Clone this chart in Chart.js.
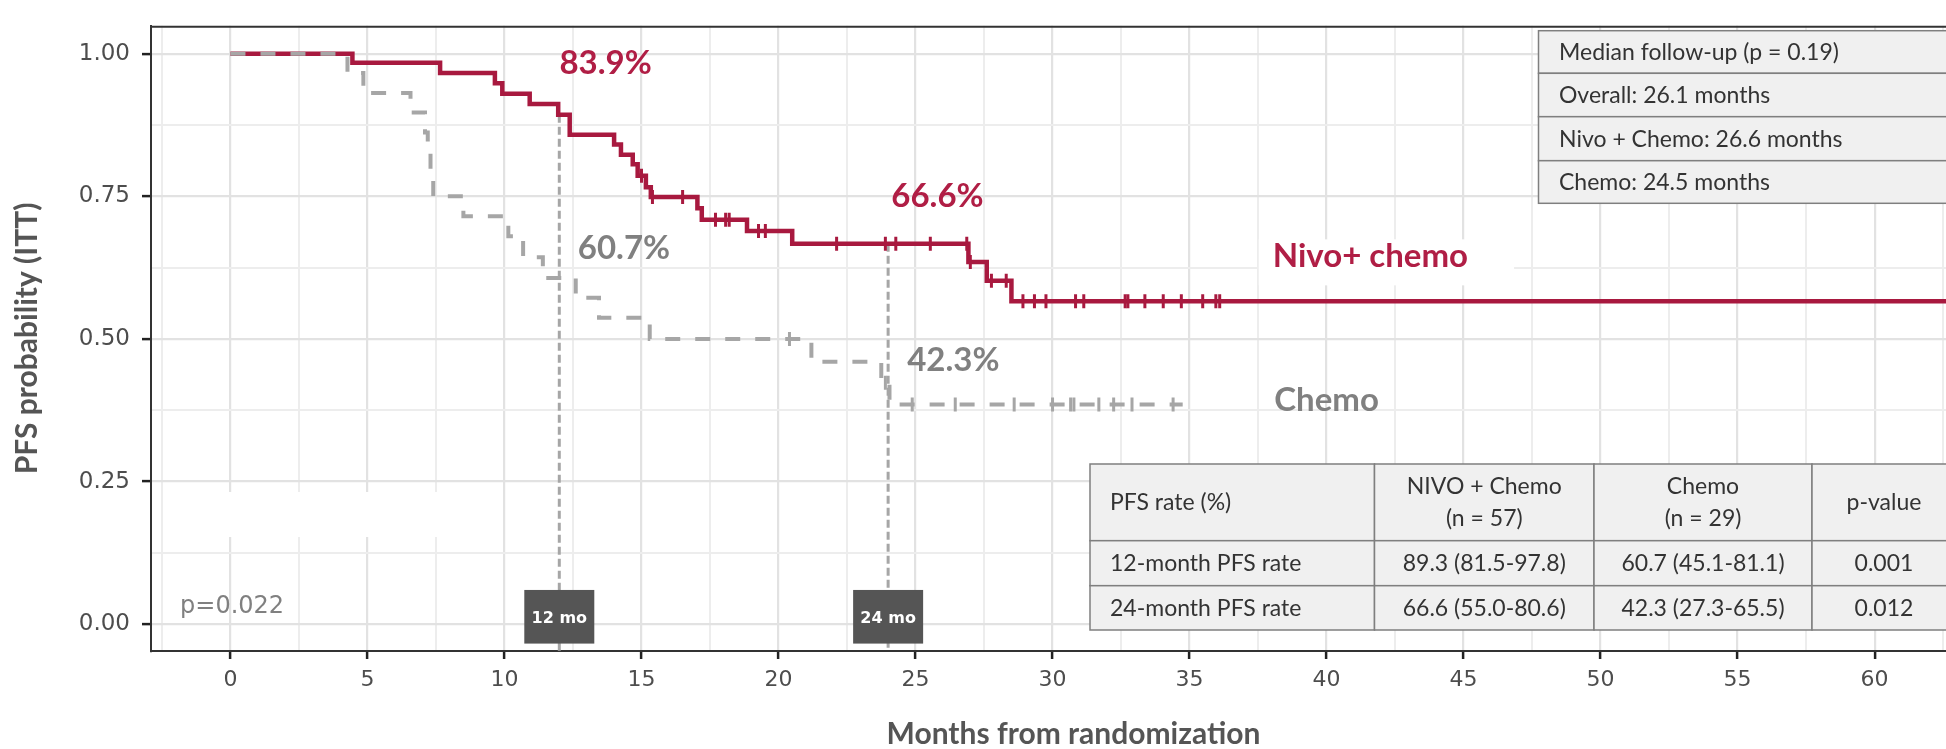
<!DOCTYPE html>
<html>
<head>
<meta charset="utf-8">
<title>PFS Kaplan-Meier</title>
<script src="https://cdn.jsdelivr.net/npm/chart.js@4.4.1/dist/chart.umd.min.js"></script>
<style>
  html, body { margin: 0; padding: 0; background: #fff; overflow: hidden; }
  #wrap { width: 1946px; height: 749px; overflow: hidden; position: relative; }
  canvas { display: block; }
</style>
</head>
<body>
<div id="wrap"><canvas id="km" width="2006" height="749" style="width:2006px;height:749px"></canvas></div>
<script>
// Nivo + chemo arm: month of each drop and the PFS level after it
const nivoTimes = [0, 4.45, 7.65, 9.65, 9.92, 10.92, 11.96, 12.38, 14.0, 14.25, 14.68, 14.86, 15.16, 15.34, 17.04, 17.2, 18.85, 20.5, 26.93, 27.6, 28.5, 65];
const nivoSurv  = [1, 0.984, 0.966, 0.948, 0.930, 0.912, 0.893, 0.858, 0.841, 0.823, 0.806, 0.786, 0.766, 0.749, 0.729, 0.709, 0.689, 0.667, 0.635, 0.602, 0.566, 0.566];
const nivoCensored = [15.0, 15.4, 16.5, 17.7, 18.07, 18.2, 19.27, 19.52, 22.12, 23.9, 24.28, 25.54, 26.87, 27.0, 27.77, 28.31,
  28.92, 29.34, 29.76, 30.84, 31.14, 32.65, 32.75, 33.37, 34.04, 34.7, 35.48, 35.96, 36.1];

// Chemo arm
const chemoTimes = [0, 4.27, 4.85, 6.57, 7.1, 7.2, 7.3, 7.4, 8.5, 10.14, 10.68, 11.4, 12.6, 13.45, 15.3, 21.2, 23.75, 24.05, 34.75];
const chemoSurv  = [1, 0.966, 0.931, 0.897, 0.862, 0.828, 0.793, 0.75, 0.715, 0.68, 0.643, 0.607, 0.572, 0.537, 0.50, 0.46, 0.423, 0.385, 0.385];
const chemoCensored = [20.4, 23.9, 24.88, 26.45, 28.6, 30.0, 30.66, 30.78, 31.69, 32.23, 32.9, 34.4];

// axes
const xGrid = [-2.5, 0, 2.5, 5, 7.5, 10, 12.5, 15, 17.5, 20, 22.5, 25, 27.5, 30, 32.5, 35, 37.5, 40, 42.5, 45, 47.5, 50, 52.5, 55, 57.5, 60, 62.5];
const yGrid = [0, 0.125, 0.25, 0.375, 0.5, 0.625, 0.75, 0.875, 1];

// annotations
const markMonths = [12, 24];
const markLabels = ['12 mo', '24 mo'];
const rateLabels = ['83.9%', '60.7%', '66.6%', '42.3%'];
const pValueText = 'p=0.022';
const followUpRows = ['Median follow-up (p = 0.19)', 'Overall: 26.1 months', 'Nivo + Chemo: 26.6 months', 'Chemo: 24.5 months'];
const pfsHeader = [['PFS rate (%)'], ['NIVO + Chemo', '(n = 57)'], ['Chemo', '(n = 29)'], ['p-value']];
const pfsRows = [
  ['12-month PFS rate', '89.3 (81.5-97.8)', '60.7 (45.1-81.1)', '0.001'],
  ['24-month PFS rate', '66.6 (55.0-80.6)', '42.3 (27.3-65.5)', '0.012']
];

const RED = '#a8193f';
const RED_TEXT = '#b01e45';
const GRAY = '#a6a6a6';
const GRAY_TEXT = '#808080';

function survAt(times, surv, t) {
  let v = surv[0];
  for (let i = 0; i < times.length; i++) {
    if (times[i] <= t) v = surv[i];
  }
  return v;
}

const toPoints = (xs, ys) => xs.map((x, i) => ({x: x, y: ys[i]}));
const censorPoints = (marks, times, surv) => marks.map(t => ({x: t, y: survAt(times, surv, t)}));

// where the free text goes (data units)
const textSpots = [
  {text: rateLabels[0], x: 13.69, y: 0.975, color: RED_TEXT},
  {text: rateLabels[1], x: 14.36, y: 0.651, color: GRAY_TEXT},
  {text: rateLabels[2], x: 25.8, y: 0.742, color: RED_TEXT},
  {text: rateLabels[3], x: 26.38, y: 0.455, color: GRAY_TEXT},
  {text: 'Nivo+ chemo', x: 41.6, y: 0.636, color: RED_TEXT, bg: true},
  {text: 'Chemo', x: 40.0, y: 0.385, color: GRAY_TEXT}
];

const kmDecor = {
  id: 'kmDecor',
  beforeDatasetsDraw(chart) {
    const {ctx, chartArea: a, scales: {x, y}} = chart;
    ctx.save();
    // blank patch left in the panel
    ctx.fillStyle = '#fff';
    ctx.fillRect(x.getPixelForValue(-2.35), 492, x.getPixelForValue(7.9) - x.getPixelForValue(-2.35), 45);

    // top border of the panel
    ctx.strokeStyle = '#333';
    ctx.lineWidth = 2;
    ctx.beginPath();
    ctx.moveTo(a.left, a.top + 1);
    ctx.lineTo(a.right, a.top + 1);
    ctx.stroke();

    // 12 / 24 month reference lines
    ctx.strokeStyle = GRAY;
    ctx.lineWidth = 3;
    ctx.setLineDash([8, 4]);
    markMonths.forEach(m => {
      const px = x.getPixelForValue(m);
      ctx.beginPath();
      ctx.moveTo(px, y.getPixelForValue(survAt(nivoTimes, nivoSurv, m)));
      ctx.lineTo(px, a.bottom);
      ctx.stroke();
    });
    ctx.restore();
  },
  afterDatasetsDraw(chart) {
    const {ctx, scales: {x, y}} = chart;
    ctx.save();

    // month boxes
    markMonths.forEach((m, i) => {
      const px = x.getPixelForValue(m);
      const top = y.getPixelForValue(0.06);
      const bot = y.getPixelForValue(-0.034);
      ctx.fillStyle = '#555555';
      ctx.fillRect(px - 35, top, 70, bot - top);
      ctx.fillStyle = '#fff';
      ctx.font = 'bold 16px "DejaVu Sans"';
      ctx.textAlign = 'center';
      ctx.textBaseline = 'alphabetic';
      ctx.fillText(markLabels[i], px, (top + bot) / 2 + 6);
    });

    // rate labels and arm names
    ctx.font = 'bold 33px Lato';
    ctx.textAlign = 'center';
    textSpots.forEach(s => {
      const px = x.getPixelForValue(s.x);
      const py = y.getPixelForValue(s.y);
      if (s.bg) {
        const w = ctx.measureText(s.text).width;
        ctx.fillStyle = '#fff';
        ctx.fillRect(px - w / 2 - 14, py - 22, w + 60, 46);
      }
      ctx.fillStyle = s.color;
      ctx.fillText(s.text, px, py + 6);
    });

    // log-rank p
    ctx.font = '24px "DejaVu Sans"';
    ctx.textAlign = 'left';
    ctx.fillStyle = GRAY_TEXT;
    ctx.fillText(pValueText, x.getPixelForValue(-1.84), y.getPixelForValue(0.0356) + 9);

    // median follow-up table
    const fuTop = [30.7, 73.3, 116.7, 160.7, 203.3];
    ctx.font = '23px Lato';
    ctx.lineWidth = 1.5;
    followUpRows.forEach((t, i) => {
      ctx.fillStyle = '#f0f0f0';
      ctx.fillRect(1538.5, fuTop[i], 520, fuTop[i + 1] - fuTop[i]);
      ctx.strokeStyle = '#7f7f7f';
      ctx.strokeRect(1538.5, fuTop[i], 520, fuTop[i + 1] - fuTop[i]);
      ctx.fillStyle = '#333';
      ctx.fillText(t, 1559, (fuTop[i] + fuTop[i + 1]) / 2 + 8);
    });

    // PFS rate table
    const cols = [1090, 1374.5, 1594, 1812, 1956];
    const rows = [464, 540.7, 585.7, 630];
    const body = [pfsHeader].concat(pfsRows.map(r => r.map(c => [c])));
    body.forEach((r, ri) => {
      r.forEach((lines, ci) => {
        const x0 = cols[ci], x1 = cols[ci + 1], y0 = rows[ri], y1 = rows[ri + 1];
        ctx.fillStyle = '#f0f0f0';
        ctx.fillRect(x0, y0, x1 - x0, y1 - y0);
        ctx.strokeStyle = '#7f7f7f';
        ctx.strokeRect(x0, y0, x1 - x0, y1 - y0);
        ctx.fillStyle = '#333';
        ctx.textAlign = ci === 0 ? 'left' : 'center';
        const tx = ci === 0 ? x0 + 20 : (x0 + x1) / 2;
        const cy = (y0 + y1) / 2;
        if (lines.length === 2) {
          ctx.fillText(lines[0], tx, cy - 16 + 8);
          ctx.fillText(lines[1], tx, cy + 16 + 8);
        } else {
          ctx.fillText(lines[0], tx, cy + 8);
        }
      });
    });
    ctx.restore();
  }
};

const isMajorX = v => Math.abs(v % 5) < 1e-6;
const isMajorY = v => Math.abs((v * 4) - Math.round(v * 4)) < 1e-6;

const ctx = document.getElementById('km').getContext('2d');
const chart = new Chart(ctx, {
  type: 'line',
  data: {
    datasets: [
      {
        label: 'Chemo censored',
        data: censorPoints(chemoCensored, chemoTimes, chemoSurv),
        showLine: false,
        pointStyle: 'line',
        rotation: 90,
        pointRadius: 7,
        pointBorderWidth: 3,
        pointBorderColor: GRAY,
        pointBackgroundColor: GRAY,
        order: 0
      },
      {
        label: 'Chemo',
        data: toPoints(chemoTimes, chemoSurv),
        stepped: true,
        borderColor: GRAY,
        borderWidth: 4,
        borderDash: [15, 15],
        pointRadius: 0,
        fill: false,
        order: 1
      },
      {
        label: 'Nivo + chemo censored',
        data: censorPoints(nivoCensored, nivoTimes, nivoSurv),
        showLine: false,
        pointStyle: 'line',
        rotation: 90,
        pointRadius: 7,
        pointBorderWidth: 3,
        pointBorderColor: RED,
        pointBackgroundColor: RED,
        order: 2
      },
      {
        label: 'Nivo + chemo',
        data: toPoints(nivoTimes, nivoSurv),
        stepped: true,
        borderColor: RED,
        borderWidth: 4.5,
        pointRadius: 0,
        fill: false,
        order: 3
      }
    ]
  },
  options: {
    responsive: false,
    animation: false,
    layout: { padding: { top: 15, left: 0, right: 0, bottom: 0 } },
    plugins: {
      legend: { display: false },
      tooltip: { enabled: false }
    },
    scales: {
      x: {
        type: 'linear',
        min: -2.9,
        max: 64.43,
        afterBuildTicks: s => { s.ticks = xGrid.map(v => ({value: v})); },
        afterFit: s => { s.height = 98; },
        grid: {
          color: c => isMajorX(c.tick.value) ? '#e2e2e2' : '#ededed',
          lineWidth: c => isMajorX(c.tick.value) ? 2.2 : 2,
          tickColor: c => isMajorX(c.tick.value) ? '#222' : 'rgba(0,0,0,0)',
          tickLength: 8,
          tickWidth: 2.5
        },
        border: { display: true, color: '#333', width: 2 },
        ticks: {
          autoSkip: false,
          maxRotation: 0,
          padding: 8,
          color: '#4d4d4d',
          font: { family: 'DejaVu Sans', size: 22 },
          callback: v => isMajorX(v) ? String(v) : ''
        },
        title: {
          display: true,
          text: 'Months from randomization',
          color: '#555',
          font: { family: 'Lato', weight: 'bold', size: 30, lineHeight: 1 },
          padding: { top: 0, bottom: 0 }
        }
      },
      y: {
        type: 'linear',
        min: -0.047,
        max: 1.0489,
        afterBuildTicks: s => { s.ticks = yGrid.map(v => ({value: v})); },
        afterFit: s => { s.width = 151; },
        grid: {
          color: c => isMajorY(c.tick.value) ? '#e2e2e2' : '#ededed',
          lineWidth: c => isMajorY(c.tick.value) ? 2.2 : 2,
          tickColor: c => isMajorY(c.tick.value) ? '#222' : 'rgba(0,0,0,0)',
          tickLength: 9,
          tickWidth: 2.5
        },
        border: { display: true, color: '#333', width: 2 },
        ticks: {
          autoSkip: false,
          padding: 12,
          color: '#4d4d4d',
          font: { family: 'DejaVu Sans', size: 23 },
          callback: v => isMajorY(v) ? v.toFixed(2) : ''
        },
        title: {
          display: true,
          text: 'PFS probability (ITT)',
          color: '#555',
          font: { family: 'Lato', weight: 'bold', size: 30, lineHeight: 1 },
          padding: { top: 12, bottom: 0 }
        }
      }
    }
  },
  plugins: [kmDecor]
});
</script>
</body>
</html>
